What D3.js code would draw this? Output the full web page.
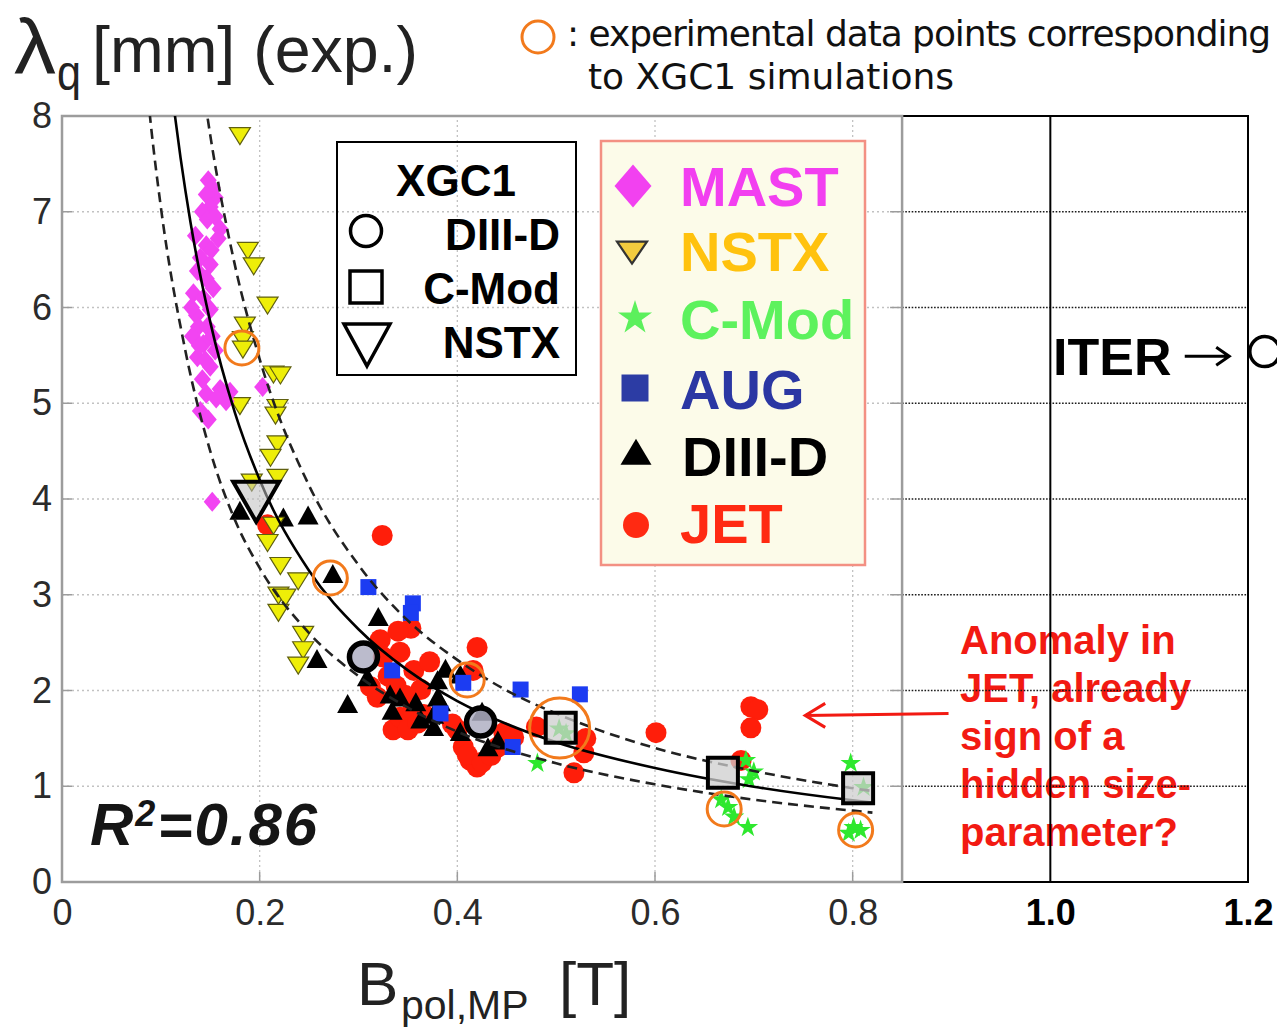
<!DOCTYPE html>
<html>
<head>
<meta charset="utf-8">
<script src="https://cdn.jsdelivr.net/npm/d3@7/dist/d3.min.js"></script>
<style>
  html, body { margin: 0; padding: 0; background: #fff; }
  svg { display: block; }
</style>
</head>
<body>
<svg id="chart" width="1277" height="1031"></svg>
<script>
// Scrape-off-layer heat-flux width λq [mm] against poloidal field B_pol,MP [T]
// Multi-machine experimental database, [B_pol, λq]
const mastPoints = [[0.148,7.33],[0.152,7.25],[0.155,7.15],[0.146,7.18],[0.150,7.05],[0.142,7.00],[0.147,6.92],
  [0.155,6.95],[0.160,6.82],[0.135,6.75],[0.158,6.72],[0.146,6.65],[0.140,6.52],[0.150,6.45],[0.137,6.38],
  [0.146,6.30],[0.133,6.15],[0.143,6.10],[0.150,5.98],[0.136,5.92],[0.138,5.80],[0.147,5.80],[0.132,5.70],
  [0.152,5.70],[0.143,5.62],[0.137,5.48],[0.155,5.55],[0.150,5.38],[0.142,5.25],[0.160,5.15],[0.146,5.10],
  [0.166,5.02],[0.156,5.05],[0.140,4.92],[0.148,4.83],[0.170,5.12],[0.203,5.17],[0.152,3.97],[0.131,6.00],
  [0.139,5.60],[0.145,5.45],[0.153,6.20],[0.151,6.60]];
const nstxPoints = [[0.180,7.82],[0.188,6.62],[0.194,6.46],[0.208,6.05],[0.185,5.84],[0.183,5.69],[0.183,5.59],
  [0.214,5.33],[0.221,5.32],[0.180,5.00],[0.218,4.98],[0.216,4.90],[0.218,4.60],[0.211,4.46],[0.218,4.25],
  [0.192,4.20],[0.214,3.75],[0.208,3.57],[0.221,3.33],[0.239,3.17],[0.219,3.02],[0.226,3.00],[0.219,2.84],
  [0.244,2.61],[0.244,2.45],[0.239,2.29]];
const cmodPoints = [[0.481,1.24],[0.674,0.78],[0.680,0.68],[0.694,0.57],[0.667,0.86],[0.692,1.27],[0.695,1.07],
  [0.700,1.15],[0.798,1.24],[0.801,0.57],[0.808,0.54],[0.796,0.51],[0.811,0.99],[0.503,1.60],[0.510,1.55]];
const augPoints = [[0.310,3.08],[0.355,2.91],[0.353,2.81],[0.334,2.21],[0.406,2.08],[0.464,2.01],[0.456,1.41],
  [0.383,1.76],[0.524,1.96]];
const diiidPoints = [[0.180,3.85],[0.224,3.78],[0.249,3.80],[0.274,3.19],[0.258,2.30],[0.289,1.83],[0.320,2.74],
  [0.309,2.11],[0.332,1.93],[0.334,1.76],[0.342,1.90],[0.358,1.85],[0.363,1.67],[0.380,2.08],[0.380,1.90],
  [0.376,1.72],[0.376,1.59],[0.383,1.85],[0.388,2.20],[0.403,2.14],[0.403,1.54],[0.431,1.38],[0.441,1.45],
  [0.425,1.75]];
const jetPoints = [[0.208,3.73],[0.324,3.62],[0.322,2.53],[0.325,2.35],[0.312,2.04],[0.319,1.93],[0.335,1.59],
  [0.342,2.40],[0.353,2.65],[0.356,2.21],[0.363,2.01],[0.342,1.72],[0.350,1.59],[0.355,1.80],[0.330,2.15],
  [0.420,2.45],[0.416,2.21],[0.400,1.59],[0.406,1.41],[0.413,1.27],[0.420,1.20],[0.441,1.41],[0.447,1.56],
  [0.457,1.51],[0.528,1.35],[0.518,1.14],[0.601,1.56],[0.697,1.83],[0.704,1.80],[0.697,1.61],[0.687,1.27],
  [0.480,1.62],[0.530,1.50],[0.338,2.05],[0.347,1.95],[0.360,1.66],[0.366,1.75],[0.410,1.33],[0.425,1.25],
  [0.434,1.32],[0.395,1.65],[0.372,2.30],[0.340,2.62]];

// XGC1 gyrokinetic simulation results
const xgcDiiidPoints = [[0.305,2.35],[0.4235,1.67]];
const xgcCmodPoints = [[0.5046,1.61],[0.6687,1.14],[0.8055,0.98]];
const xgcNstxPoints = [[0.1965,4.04]];
// experimental discharges that were simulated with XGC1
const matchedPoints = [[0.182,5.577],[0.2715,3.175],[0.410,2.11],[0.5035,1.608],[0.670,0.762],[0.803,0.543]];
// ITER projection
const iterPoint = [[1.217,5.54]];

// regression curve and its confidence band
const fitCentral = [[0.112,8.18],[0.12,7.56],[0.13,6.89],[0.15,5.85],[0.175,4.90],[0.2,4.20],[0.25,3.25],
  [0.3,2.64],[0.35,2.21],[0.4,1.89],[0.45,1.65],[0.5,1.46],[0.6,1.19],[0.7,0.995],[0.8,0.853],[0.82,0.829]];
const fitUpper = [[0.145,8.14],[0.15,7.80],[0.175,6.44],[0.2,5.46],[0.25,4.14],[0.3,3.31],[0.35,2.73],
  [0.4,2.32],[0.45,2.00],[0.5,1.76],[0.6,1.40],[0.7,1.16],[0.8,0.98],[0.82,0.95]];
const fitLower = [[0.087,8.2],[0.09,7.90],[0.1,7.05],[0.125,5.54],[0.15,4.50],[0.175,3.78],[0.2,3.28],
  [0.25,2.60],[0.3,2.15],[0.35,1.82],[0.4,1.57],[0.5,1.24],[0.6,1.02],[0.7,0.86],[0.8,0.745],[0.82,0.725]];

const xTickValues = [0, 0.2, 0.4, 0.6, 0.8];
const xTickValuesExt = [1.0, 1.2];
const yTickValues = [0, 1, 2, 3, 4, 5, 6, 7, 8];
const xGridValues = [0.2, 0.4, 0.6, 0.8];
const yGridValues = [1, 2, 3, 4, 5, 6, 7];
const panelSplit = 0.85;
const deviceNames = ["MAST", "NSTX", "C-Mod", "AUG", "DIII-D", "JET"];
const xgcNames = ["DIII-D", "C-Mod", "NSTX"];
const annotationLines = ["Anomaly in", "JET, already", "sign of a", "hidden size-", "parameter?"];

const SANS = "'Liberation Sans', Arial, Helvetica, sans-serif";
const WIDE = "'DejaVu Sans', Verdana, sans-serif";

const svg = d3.select("#chart");
svg.append("rect").attr("width", 1277).attr("height", 1031).attr("fill", "#fff");

const x = d3.scaleLinear().domain([0, 1.2]).range([62, 1248]);
const y = d3.scaleLinear().domain([0, 8]).range([882, 116]);
const xs = x(panelSplit);

// marker path helpers (centred on the data point)
const triPath = (w, h, down) => {
  const s = down ? -1 : 1;
  return `M0,${-s * 2 * h / 3}L${w / 2},${s * h / 3}L${-w / 2},${s * h / 3}Z`;
};
const diamondPath = (w, h) => `M0,${-h / 2}L${w / 2},0L0,${h / 2}L${-w / 2},0Z`;
const squarePath = s => `M${-s / 2},${-s / 2}h${s}v${s}h${-s}Z`;
const at = d => `translate(${x(d[0])},${y(d[1])})`;

// ---------- red annotation (sits under the right-panel rules) ----------
const note = svg.append("g").attr("font-family", SANS).attr("font-weight", "bold")
  .attr("font-size", 40).attr("fill", "#f21a12");
note.selectAll("text").data(annotationLines).join("text")
  .attr("x", 960).attr("y", (d, i) => 654 + i * 48).text(d => d);

// ---------- left panel grid ----------
const gridL = svg.append("g").attr("stroke", "#c2c2c2").attr("stroke-width", 1.3).attr("stroke-dasharray", "2,3");
gridL.selectAll("line.v").data(xGridValues).join("line").attr("class", "v")
  .attr("x1", d => x(d)).attr("x2", d => x(d)).attr("y1", y(0)).attr("y2", y(8));
gridL.selectAll("line.h").data(yGridValues).join("line").attr("class", "h")
  .attr("x1", x(0)).attr("x2", xs).attr("y1", d => y(d)).attr("y2", d => y(d));

// ---------- right panel ----------
const gridR = svg.append("g");
gridR.selectAll("line").data(yGridValues).join("line")
  .attr("x1", xs).attr("x2", x(1.2)).attr("y1", d => y(d)).attr("y2", d => y(d))
  .attr("stroke", "#1a1a1a").attr("stroke-width", 1.3).attr("stroke-dasharray", "1.6,1.6");
gridR.append("line").attr("x1", x(1.0)).attr("x2", x(1.0)).attr("y1", y(0)).attr("y2", y(8))
  .attr("stroke", "#000").attr("stroke-width", 2);
gridR.append("path")
  .attr("d", `M${xs},${y(8)}H${x(1.2)}V${y(0)}H${xs}`)
  .attr("fill", "none").attr("stroke", "#000").attr("stroke-width", 2);

// ---------- left panel frame and inward ticks ----------
const frame = svg.append("g").attr("stroke", "#9c9c9c");
frame.append("rect").attr("x", x(0)).attr("y", y(8)).attr("width", xs - x(0)).attr("height", y(0) - y(8))
  .attr("fill", "none").attr("stroke-width", 2.5);
frame.selectAll("line.yl").data(yGridValues).join("line").attr("class", "yl")
  .attr("x1", x(0)).attr("x2", x(0) + 10).attr("y1", d => y(d)).attr("y2", d => y(d)).attr("stroke-width", 1.5);
frame.selectAll("line.yr").data(yGridValues).join("line").attr("class", "yr")
  .attr("x1", xs - 12).attr("x2", xs).attr("y1", d => y(d)).attr("y2", d => y(d)).attr("stroke-width", 1.5);
frame.selectAll("line.xb").data(xGridValues).join("line").attr("class", "xb")
  .attr("x1", d => x(d)).attr("x2", d => x(d)).attr("y1", y(0)).attr("y2", y(0) - 10).attr("stroke-width", 1.5);

// ---------- axes ----------
const styleTicks = (g, weight, color) => {
  g.select(".domain").remove();
  g.selectAll("text").attr("font-family", SANS).attr("font-size", 36)
    .attr("font-weight", weight).attr("fill", color);
};
svg.append("g").attr("transform", `translate(0,${y(0)})`)
  .call(d3.axisBottom(x).tickValues(xTickValues).tickSize(0).tickPadding(17)
    .tickFormat(d => d === 0 ? "0" : d3.format(".1f")(d)))
  .call(g => styleTicks(g, "normal", "#2b2b2b"));
svg.append("g").attr("transform", `translate(0,${y(0)})`)
  .call(d3.axisBottom(x).tickValues(xTickValuesExt).tickSize(0).tickPadding(17).tickFormat(d3.format(".1f")))
  .call(g => styleTicks(g, "bold", "#000"));
svg.append("g").attr("transform", `translate(${x(0)},0)`)
  .call(d3.axisLeft(y).tickValues(yTickValues).tickSize(0).tickPadding(10).tickFormat(d3.format("d")))
  .call(g => styleTicks(g, "normal", "#2b2b2b"));

// ---------- legend boxes ----------
const leg1 = svg.append("g");
leg1.append("rect").attr("x", 337).attr("y", 142).attr("width", 239).attr("height", 233)
  .attr("fill", "none").attr("stroke", "#000").attr("stroke-width", 2);
leg1.append("text").attr("x", 456).attr("y", 196).attr("text-anchor", "middle")
  .attr("font-family", SANS).attr("font-weight", "bold").attr("font-size", 44).text("XGC1");
leg1.selectAll("text.name").data(xgcNames).join("text").attr("class", "name")
  .attr("x", 560).attr("y", (d, i) => [250, 304, 358][i]).attr("text-anchor", "end")
  .attr("font-family", SANS).attr("font-weight", "bold").attr("font-size", 44).text(d => d);
leg1.append("circle").attr("cx", 366).attr("cy", 231).attr("r", 15.5)
  .attr("fill", "none").attr("stroke", "#000").attr("stroke-width", 3.5);
leg1.append("path").attr("transform", "translate(366,287)").attr("d", squarePath(32))
  .attr("fill", "none").attr("stroke", "#000").attr("stroke-width", 3.5);
leg1.append("path").attr("transform", "translate(367,338)").attr("d", triPath(46, 42, true))
  .attr("fill", "none").attr("stroke", "#000").attr("stroke-width", 3.5).attr("stroke-linejoin", "miter");

const leg2 = svg.append("g");
leg2.append("rect").attr("x", 601).attr("y", 141).attr("width", 264).attr("height", 424)
  .attr("fill", "#fcfbe9").attr("stroke", "#f39083").attr("stroke-width", 2.5);
const devColors = ["#f23ff0", "#ffc20e", "#5df25d", "#2b37a3", "#000", "#ff2a12"];
const devBase = [206, 271, 339, 409, 476, 543];
const devMarkY = [186, 249, 318, 388, 456, 525];
leg2.selectAll("text").data(deviceNames).join("text")
  .attr("x", (d, i) => i === 4 ? 682 : 680).attr("y", (d, i) => devBase[i])
  .attr("font-family", SANS).attr("font-weight", "bold").attr("font-size", 56)
  .attr("fill", (d, i) => devColors[i]).text(d => d);
const lm = leg2.append("g");
lm.append("path").attr("transform", `translate(633,${devMarkY[0]})`).attr("d", diamondPath(37, 43)).attr("fill", "#f241f0");
lm.append("path").attr("transform", `translate(632,${devMarkY[1]})`).attr("d", triPath(30, 22, true))
  .attr("fill", "#f2cb3e").attr("stroke", "#333").attr("stroke-width", 2.2);
lm.append("path").attr("transform", `translate(635,${devMarkY[2]})`).attr("d", d3.symbol(d3.symbolStar, 360)())
  .attr("fill", "#5cf05c");
lm.append("path").attr("transform", `translate(635,${devMarkY[3]})`).attr("d", squarePath(27)).attr("fill", "#2c3ca4");
lm.append("path").attr("transform", `translate(636,${devMarkY[4]})`).attr("d", triPath(31, 26, false)).attr("fill", "#000");
lm.append("circle").attr("cx", 636).attr("cy", devMarkY[5]).attr("r", 13).attr("fill", "#ff2a12");

// ---------- experimental points ----------
const plot = svg.append("g");
plot.append("g").selectAll("circle").data(jetPoints).join("circle")
  .attr("cx", d => x(d[0])).attr("cy", d => y(d[1])).attr("r", 10.5).attr("fill", "#ff1e0a");
plot.append("g").selectAll("path").data(diiidPoints).join("path")
  .attr("transform", at).attr("d", triPath(21, 19, false)).attr("fill", "#000");
plot.append("g").selectAll("path").data(augPoints).join("path")
  .attr("transform", at).attr("d", squarePath(16)).attr("fill", "#1c3cf2");
plot.append("g").selectAll("path").data(cmodPoints).join("path")
  .attr("transform", at).attr("d", d3.symbol(d3.symbolStar, 130)()).attr("fill", "#2ee82e");
plot.append("g").selectAll("path").data(nstxPoints).join("path")
  .attr("transform", at).attr("d", triPath(21, 17, true))
  .attr("fill", "#eeee08").attr("stroke", "#5f5f10").attr("stroke-width", 1.2);
plot.append("g").selectAll("path").data(mastPoints).join("path")
  .attr("transform", at).attr("d", diamondPath(17, 20)).attr("fill", "#f244f2");

// ---------- regression curves ----------
svg.append("clipPath").attr("id", "leftPanel").append("rect")
  .attr("x", x(0)).attr("y", y(8)).attr("width", xs - x(0)).attr("height", y(0) - y(8));
const line = d3.line().x(d => x(d[0])).y(d => y(d[1])).curve(d3.curveMonotoneX);
const curves = svg.append("g").attr("clip-path", "url(#leftPanel)").attr("fill", "none");
curves.append("path").attr("d", line(fitLower)).attr("stroke", "#222").attr("stroke-width", 2.6).attr("stroke-dasharray", "10,6");
curves.append("path").attr("d", line(fitUpper)).attr("stroke", "#222").attr("stroke-width", 2.6).attr("stroke-dasharray", "10,6");
curves.append("path").attr("d", line(fitCentral)).attr("stroke", "#000").attr("stroke-width", 2.6);

// ---------- XGC1 results ----------
const xgc = svg.append("g");
xgc.selectAll("circle").data(xgcDiiidPoints).join("circle")
  .attr("cx", d => x(d[0])).attr("cy", d => y(d[1])).attr("r", 14)
  .attr("fill", "rgba(175,175,195,0.85)").attr("stroke", "#000").attr("stroke-width", 5.5);
xgc.selectAll("path.sq").data(xgcCmodPoints).join("path").attr("class", "sq")
  .attr("transform", at).attr("d", squarePath(30))
  .attr("fill", "rgba(205,205,205,0.75)").attr("stroke", "#000").attr("stroke-width", 4);
xgc.selectAll("path.tri").data(xgcNstxPoints).join("path").attr("class", "tri")
  .attr("transform", at).attr("d", triPath(46, 40, true))
  .attr("fill", "rgba(190,190,190,0.55)").attr("stroke", "#000").attr("stroke-width", 4);

// ---------- rings around the simulated discharges ----------
svg.append("g").selectAll("circle").data(matchedPoints).join("circle")
  .attr("cx", d => x(d[0])).attr("cy", d => y(d[1])).attr("r", (d, i) => i === 3 ? 30 : 17)
  .attr("fill", "none").attr("stroke", "#f27a1c").attr("stroke-width", 3);

// ---------- ITER ----------
svg.append("text").attr("x", 1053).attr("y", 375).attr("font-family", SANS).attr("font-weight", "bold")
  .attr("font-size", 52).attr("fill", "#000").text("ITER");
svg.append("path")
  .attr("d", `M${x(1.136)},${y(5.49)}H${x(1.181)}M${x(1.181) - 13},${y(5.49) - 9}L${x(1.181)},${y(5.49)}L${x(1.181) - 13},${y(5.49) + 9}`)
  .attr("fill", "none").attr("stroke", "#000").attr("stroke-width", 3);
svg.append("g").selectAll("circle").data(iterPoint).join("circle")
  .attr("cx", d => x(d[0])).attr("cy", d => y(d[1])).attr("r", 15)
  .attr("fill", "#fff").attr("stroke", "#000").attr("stroke-width", 3.5);

// red arrow pointing at the JET outliers
svg.append("path")
  .attr("d", `M${x(0.897)},${y(1.76)}L${x(0.752)},${y(1.74)}M${x(0.752) + 20},${y(1.74) - 12}L${x(0.752)},${y(1.74)}L${x(0.752) + 20},${y(1.74) + 12}`)
  .attr("fill", "none").attr("stroke", "#f21a12").attr("stroke-width", 3);

// ---------- fit quality ----------
const r2 = svg.append("text").attr("x", 90).attr("y", 845).attr("font-family", SANS)
  .attr("font-weight", "bold").attr("font-style", "italic").attr("font-size", 60)
  .attr("letter-spacing", 2).attr("fill", "#151515");
r2.append("tspan").text("R");
r2.append("tspan").attr("dy", -19).attr("font-size", 36).text("2");
r2.append("tspan").attr("dy", 19).text("=0.86");

// ---------- axis titles ----------
svg.append("text").attr("x", 14).attr("y", 74).attr("font-family", SANS).attr("font-size", 78)
  .attr("textLength", 42).attr("lengthAdjust", "spacingAndGlyphs").attr("fill", "#222").text("λ");
svg.append("text").attr("x", 57).attr("y", 90).attr("font-family", SANS).attr("font-size", 50)
  .attr("textLength", 24).attr("lengthAdjust", "spacingAndGlyphs").attr("fill", "#222").text("q");
svg.append("text").attr("x", 92).attr("y", 72).attr("font-family", SANS).attr("font-size", 64)
  .attr("textLength", 326).attr("lengthAdjust", "spacingAndGlyphs").attr("fill", "#222").text("[mm] (exp.)");

const xTitle = svg.append("text").attr("font-family", SANS).attr("fill", "#222");
xTitle.append("tspan").attr("x", 357).attr("y", 1005).attr("font-size", 62).text("B");
xTitle.append("tspan").attr("x", 401).attr("y", 1019).attr("font-size", 41).text("pol,MP");
xTitle.append("tspan").attr("x", 559).attr("y", 1005).attr("font-size", 62).text("[T]");

// ---------- note on the rings ----------
svg.append("circle").attr("cx", 538).attr("cy", 37).attr("r", 16)
  .attr("fill", "none").attr("stroke", "#f27a1c").attr("stroke-width", 3);
svg.append("text").attr("x", 567).attr("y", 46).attr("font-family", WIDE).attr("font-size", 36)
  .attr("textLength", 704).attr("lengthAdjust", "spacing").attr("fill", "#111")
  .text(": experimental data points corresponding");
svg.append("text").attr("x", 588).attr("y", 89).attr("font-family", WIDE).attr("font-size", 36)
  .attr("fill", "#111").text("to XGC1 simulations");
</script>
</body>
</html>
